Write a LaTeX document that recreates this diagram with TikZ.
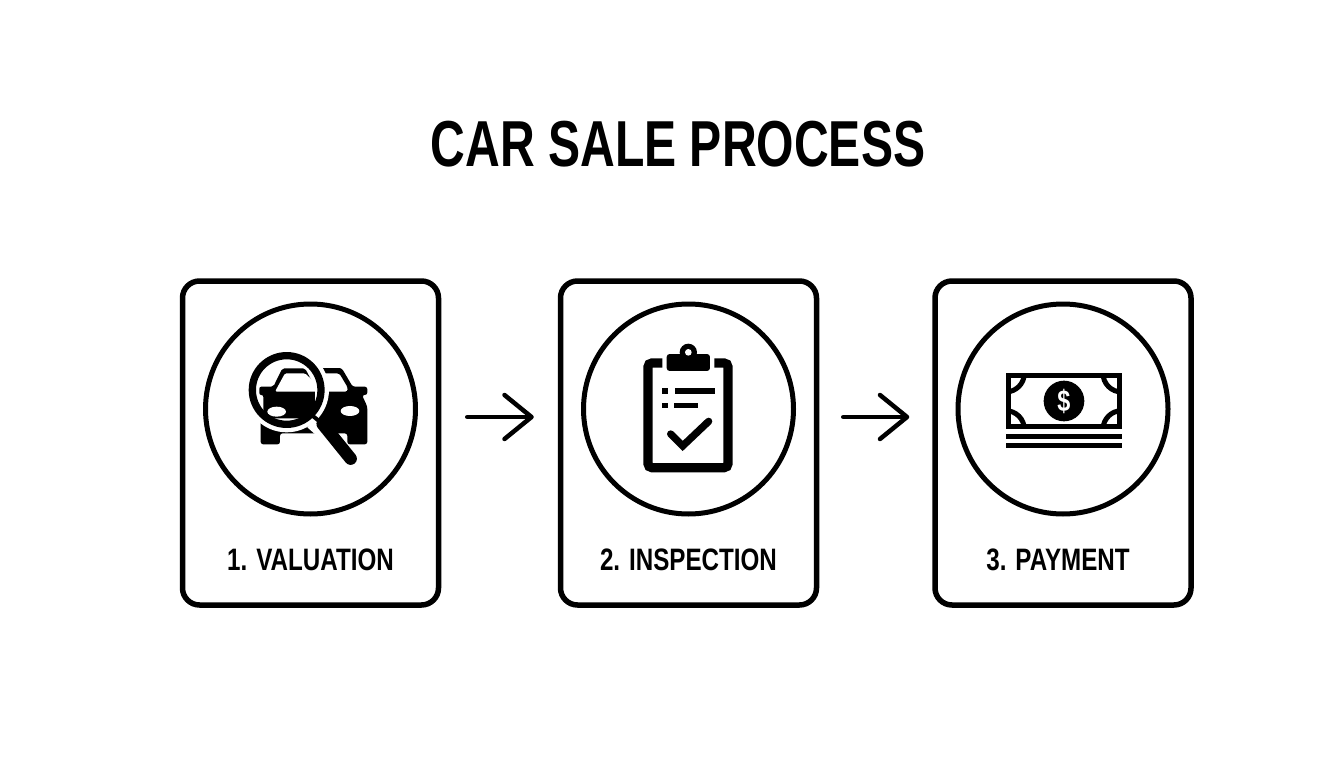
\documentclass[tikz,border=0pt]{standalone}
\usepackage{fontspec}
\setmainfont[FakeStretch=0.78]{Liberation Sans}
\newfontfamily\titlefont[FakeStretch=0.74]{Liberation Sans}
\usepackage{tikz}
\usetikzlibrary{arrows.meta}
\tikzstyle{card} = [rectangle, rounded corners=17pt, minimum width=256pt, minimum height=324pt, line width=5.5pt, draw=black]
\tikzstyle{disc} = [circle, minimum size=210pt, inner sep=0pt, line width=5pt, draw=black]
\tikzstyle{steplabel} = [font=\bfseries\fontsize{31}{31}\selectfont, text=black, inner sep=0pt]
\tikzstyle{arrow} = [line width=4.5pt, line cap=round, -{Straight Barb[length=27pt,width=44pt,round,line width=4.5pt]}]
\tikzstyle{icon} = [fill=black, draw=none]

\begin{document}
\begin{tikzpicture}[x=1pt, y=-1pt, node distance=34pt]
                                \useasboundingbox (0,0) rectangle (1344,768);
                                \fill [white] (0,0) rectangle (1344,768);
                                \node (title) [font=\titlefont\bfseries\fontsize{65}{65}\selectfont, inner sep=0pt] at (678,144) {CAR SALE PROCESS};
                                \node (card1) [card] at (310.5,443) {};
                                \node (card2) [card, node distance=378pt, right of=card1] {};
                                \node (card3) [card, node distance=374.5pt, right of=card2] {};
                                \node (disc1) [disc, above of=card1] {};
                                \node (disc2) [disc, above of=card2] {};
                                \node (disc3) [disc, above of=card3] {};
                                \node (label1) [steplabel, node distance=117pt, below of=card1] {1. VALUATION};
                                \node (label2) [steplabel, node distance=117pt, below of=card2] {2. INSPECTION};
                                \node (label3) [steplabel, node distance=117pt, below of=card3, xshift=-5pt] {3. PAYMENT};
                                \draw [arrow, shorten <=26pt, shorten >=24pt] ([yshift=26pt]card1.east) -- ([yshift=26pt]card2.west);
                                \draw [arrow, shorten <=24pt, shorten >=23pt] ([yshift=26pt]card2.east) -- ([yshift=26pt]card3.west);
                                % magnifier and cars
                                \begin{scope}[shift={(230,340)}, x=0.3333pt, y=-0.3333pt]
                                \fill [icon, even odd rule, rounded corners=2.5pt] (270,84) -- (335,84) -- (368,140) -- (412,140) -- (412,165) -- (396,165) -- (412,200) -- (412,313) -- (352,313) -- (352,280) -- (150,280) -- (150,313) -- (92,313) -- (92,200) -- (200,140) -- (270,84) -- cycle
                                (280,100) -- (328,100) -- (353,142) -- (353,155) -- (280,155) -- cycle;
                                \fill [white] (360,213) ellipse (28 and 15);
                                \fill [white] (170,150) circle (127);
                                \fill [white] (232,262) -- (262,232) -- (395,350) -- (365,380) -- cycle;
                                \begin{scope}
                                \clip (170,150) circle (110);
                                \fill [icon, rounded corners=2pt] (130,140) -- (157,85) -- (225,85) -- (255,140) -- (255,235) -- (100,235) -- (100,165) -- (88,165) -- (88,140) -- cycle;
                                \fill [white, rounded corners=1.5pt] (135,155) -- (165,100) -- (225,100) -- (285,155) -- cycle;
                                \fill [white] (140,215) ellipse (28 and 15);
                                \end{scope}
                                \draw [line width=7.3pt, draw=black] (170,150) circle (103);
                                \draw [line width=4pt, draw=black] (245,225) -- (278,252);
                                \draw [line width=12.5pt, line cap=round, draw=black] (278,252) -- (362,356);
                                \end{scope}
                                % clipboard
                                \begin{scope}[shift={(620,335)}, x=0.3333pt, y=-0.3333pt]
                                \draw [line width=9.3pt, rounded corners=4pt, draw=black] (127,84) -- (84,84) -- (84,398) -- (324,398) -- (324,84) -- (283,84);
                                \fill [icon, rounded corners=3pt] (140,57) rectangle (270,108);
                                \fill [icon] (205,52) circle (26);
                                \fill [white] (205,52) circle (10);
                                \fill [icon] (127,160) rectangle (143,177);
                                \fill [icon] (165,160) rectangle (285,177);
                                \fill [icon] (127,203) rectangle (143,220);
                                \fill [icon] (163,203) rectangle (233,220);
                                \draw [line width=7.3pt, line cap=round, draw=black] (152,297) -- (188,333) -- (266,259);
                                \end{scope}
                                % banknote
                                \begin{scope}[shift={(990,360)}, x=0.3333pt, y=-0.3333pt]
                                \begin{scope}
                                \clip (50,44) rectangle (392,204);
                                \foreach \cx/\cy in {47/40, 395/40, 47/208, 395/208}
                                    \draw [line width=5pt, draw=black] (\cx,\cy) circle (56);
                                \end{scope}
                                \draw [line width=5pt, draw=black] (54.5,47.5) rectangle (387.5,200.5);
                                \fill [icon] (222,123) circle (61);
                                \node (dollar) [text=white, inner sep=0pt, font=\bfseries\fontsize{30}{30}\selectfont] at (222,123) {\$};
                                \fill [icon] (47,222) rectangle (395,237);
                                \fill [icon] (47,248) rectangle (395,263);
                                \end{scope}
                            \end{tikzpicture}
\end{document}
